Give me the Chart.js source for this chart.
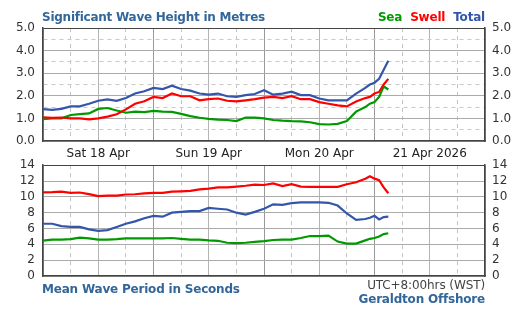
<!DOCTYPE html>
<html>
<head>
<meta charset="utf-8">
<script src="https://cdn.jsdelivr.net/npm/chart.js@4"></script>
<style>
  body{margin:0;background:#fff;font-family:"DejaVu Sans",Verdana,sans-serif;}
  #wrap{position:relative;width:521px;height:315px;overflow:hidden;}
  canvas{position:absolute;left:0;}
  .txt{position:absolute;white-space:nowrap;font-size:12px;line-height:14px;}
  .b{font-weight:bold;letter-spacing:-0.2px;}
</style>
</head>
<body>
<div id="wrap">
  <canvas id="heightChart" width="521" height="165" style="top:0"></canvas>
  <canvas id="periodChart" width="521" height="165" style="top:150px"></canvas>
  <div class="txt b" style="left:42px;top:10px;color:#336699;letter-spacing:-0.25px">Significant Wave Height in Metres</div>
  <div class="txt b" style="right:36px;top:10px">
    <span style="color:#009900">Sea</span>&nbsp;
    <span style="color:#ff0000">Swell</span>&nbsp;
    <span style="color:#3355aa">Total</span>
  </div>
  <div class="txt b" style="left:42px;top:282px;color:#336699">Mean Wave Period in Seconds</div>
  <div class="txt" style="right:36px;top:278px;color:#444;letter-spacing:-0.1px">UTC+8:00hrs (WST)</div>
  <div class="txt b" style="right:36px;top:292px;color:#336699">Geraldton Offshore</div>
</div>
<script>
// hours since Sat 18 Apr 00:00 (WST)
const hours = [0,2,4,6,8,10,12,14,16,18,20,22,24,26,28,30,32,34,36,38,40,42,44,46,48,50,52,54,56,58,60,62,64,66,68,70,71,72,73,74,75];
const dayLabels = ['Sat 18 Apr','Sun 19 Apr','Mon 20 Apr','21 Apr 2026'];

// wave height (m)
const heightSea   = [0.97,1.0,1.0,1.15,1.19,1.22,1.42,1.46,1.35,1.25, 1.3,1.28,1.33,1.3,1.29,1.2,1.1,1.03,0.98,0.95, 0.93,0.88,1.04,1.03,1.0,0.93,0.9,0.88,0.87,0.83, 0.75,0.73,0.76,0.88,1.3,1.5, 1.65,1.72,1.95,2.42,2.28];
const heightSwell = [1.05,1.02,1.04,1.0,1.0,0.96,1.0,1.08,1.18,1.4, 1.65,1.76,1.95,1.9,2.1,1.98,1.98,1.8,1.85,1.88, 1.78,1.75,1.8,1.85,1.92,1.95,1.9,1.98,1.85,1.85, 1.72,1.65,1.58,1.53,1.75,1.9, 1.95,2.1,2.17,2.5,2.75];
const heightTotal = [1.41,1.38,1.42,1.53,1.53,1.65,1.78,1.84,1.78,1.9, 2.1,2.2,2.35,2.3,2.45,2.3,2.23,2.1,2.05,2.1, 1.98,1.95,2.03,2.08,2.25,2.05,2.1,2.18,2.03,2.03, 1.88,1.8,1.8,1.8,2.1,2.35, 2.5,2.58,2.75,3.15,3.55];

// mean period (s)
const periodSea   = [4.46,4.6,4.6,4.65,4.85,4.75,4.6,4.6,4.65,4.75, 4.75,4.75,4.75,4.75,4.8,4.7,4.6,4.6,4.5,4.45, 4.2,4.15,4.2,4.3,4.4,4.55,4.6,4.6,4.8,5.05, 5.05,5.1,4.35,4.1,4.1,4.5, 4.7,4.8,5.0,5.3,5.4];
const periodSwell = [10.57,10.6,10.66,10.5,10.55,10.35,10.1,10.15,10.16,10.3, 10.33,10.45,10.5,10.5,10.65,10.7,10.75,10.95,11.05,11.2, 11.2,11.3,11.4,11.55,11.5,11.7,11.35,11.6,11.3,11.26, 11.26,11.26,11.26,11.6,11.85,12.3, 12.6,12.3,12.1,11.2,10.45];
const periodTotal = [6.6,6.6,6.3,6.2,6.2,5.9,5.7,5.8,6.2,6.6, 6.9,7.3,7.6,7.5,8.0,8.1,8.2,8.2,8.6,8.5, 8.4,8.0,7.75,8.1,8.5,9.05,9.0,9.2,9.3,9.3, 9.3,9.25,8.9,7.9,7.1,7.2, 7.35,7.6,7.15,7.45,7.5];

const GREEN = '#009900', RED = '#ff0000', BLUE = '#3355aa';
const tickFont = {family:'"DejaVu Sans", Verdana, sans-serif', size:12};

function pts(arr){ return arr.map((v,i)=>({x:hours[i], y:v})); }

function lineSet(data,color){
  return {data:pts(data), borderColor:color, borderWidth:2.2, pointRadius:0, tension:0, fill:false};
}

function xScale(showLabels, height){
  return {
    type:'linear', min:0, max:96,
    afterFit(s){ s.height = height; },
    ticks:{display:showLabels, stepSize:6, autoSkip:false, maxRotation:0, padding:6, color:'#222', font:tickFont,
      callback:v=> (v%24===12 ? dayLabels[(v-12)/24] : '')},
    grid:{drawTicks:false,
      color:c=> c.tick ? (c.tick.value%24===0 ? '#999' : (c.tick.value%12===0 ? '#b4b4b4' : '#c4c4c4')) : '#bbb'},
    border:{color:'#444', width:1.5,
      dash:c=> (c.tick && c.tick.value%12!==0) ? [4,4] : []}
  };
}

function yScales(max, step, minorDash, fmt, pad){
  const col = c=>{
    if(!c.tick) return '#aaa';
    if(c.tick.value===max) return '#444';
    return minorDash && Math.round(c.tick.value*2)%2===1 ? '#c8c8c8' : '#aaa';
  };
  return {
    y:{position:'left', min:0, max:max, afterFit(s){ s.width = 43; },
      ticks:{stepSize:step, autoSkip:false, padding:8, color:'#333', font:tickFont, callback:fmt},
      grid:{drawTicks:false, color:col},
      border:{color:'#444', width:1.5, dash:c=> (minorDash && c.tick && Math.round(c.tick.value*2)%2===1) ? [4,4] : []}},
    y2:{position:'right', min:0, max:max, afterFit(s){ s.width = 36; },
      ticks:{stepSize:step, autoSkip:false, padding:pad, color:'#333', font:tickFont, callback:fmt},
      grid:{drawTicks:false, drawOnChartArea:false},
      border:{color:'#444', width:1.5}}
  };
}

const common = {
  responsive:false, animation:false,
  plugins:{legend:{display:false}, tooltip:{enabled:false}},
};

new Chart(document.getElementById('heightChart'), {
  type:'line',
  data:{datasets:[lineSet(heightTotal,BLUE), lineSet(heightSwell,RED), lineSet(heightSea,GREEN)]},
  options:Object.assign({}, common, {
    layout:{padding:{top:28, left:0, right:0, bottom:0}},
    scales:Object.assign({x:xScale(true, 24)},
      yScales(5, 0.5, true, v=> (Math.abs(v-Math.round(v))<1e-6 ? v.toFixed(1) : ''), 7))
  })
});

new Chart(document.getElementById('periodChart'), {
  type:'line',
  data:{datasets:[lineSet(periodTotal,BLUE), lineSet(periodSwell,RED), lineSet(periodSea,GREEN)]},
  options:Object.assign({}, common, {
    layout:{padding:{top:13, left:0, right:0, bottom:0}},
    scales:Object.assign({x:xScale(false, 39)},
      yScales(14, 2, false, v=> String(v), 7))
  })
});
</script>
</body>
</html>
